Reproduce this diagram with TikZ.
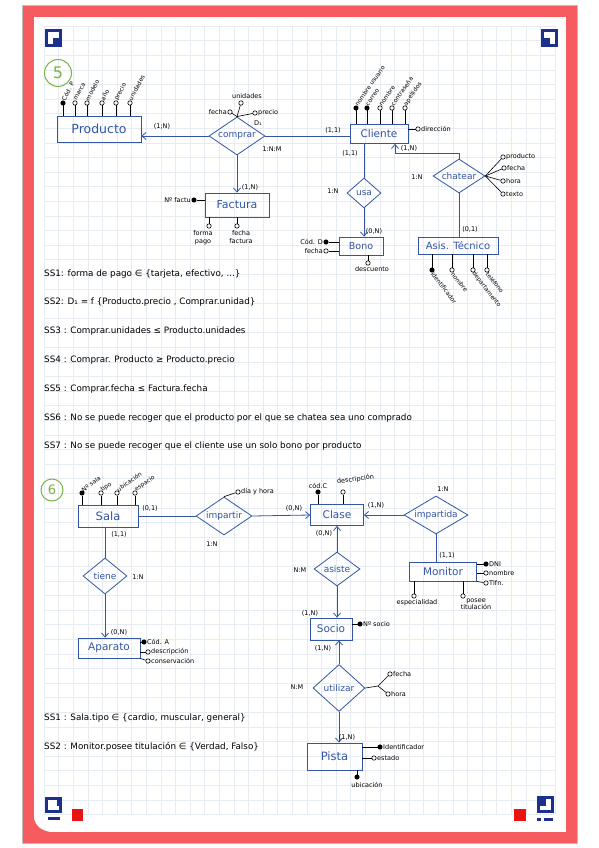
\documentclass[tikz,border=0pt]{standalone}
\usepackage{fontspec}
\setmainfont{DejaVu Sans}
\usetikzlibrary{shapes.geometric,arrows.meta}
\definecolor{ink}{RGB}{50,85,165}
\definecolor{framered}{RGB}{246,92,95}
\definecolor{grn}{RGB}{120,180,70}
\definecolor{gridc}{RGB}{231,235,242}
\definecolor{iconblue}{RGB}{28,48,140}
\definecolor{sqred}{RGB}{232,20,20}
\begin{document}
\begin{tikzpicture}[x=1pt,y=-1pt,
  ent/.style={draw=ink, line width=0.8pt, text=ink, inner sep=0pt, font=\fontsize{10.5}{10}\selectfont},
  rel/.style={diamond, draw=ink, line width=0.8pt, inner sep=0pt},
  relt/.style={text=ink, inner sep=0pt, font=\fontsize{9}{9}\selectfont},
  lk/.style={draw=ink, line width=0.8pt},
  arr/.style={lk, -{Straight Barb[length=4pt,width=7pt]}},
  att/.style={circle, draw=black, fill=white, inner sep=0pt, minimum size=4.4pt, line width=0.6pt},
  katt/.style={att, fill=black},
  stick/.style={draw=black, line width=0.6pt},
  al/.style={font=\fontsize{6.5}{7.5}\selectfont, inner sep=0.5pt},
  ral/.style={font=\fontsize{6}{6}\selectfont, inner sep=0.3pt},
  card/.style={font=\fontsize{6.5}{7}\selectfont, inner sep=0pt},
  ss/.style={anchor=west, font=\fontsize{8.8}{9}\selectfont, inner sep=0pt}]
\fill[white] (0,0) rectangle (599,848);
\useasboundingbox (0,0) rectangle (599,848);
% grid
\foreach \i in {0,...,35} {\draw[gridc, line width=0.4pt] ({44+\i*14.6},26) -- ({44+\i*14.6},814.4);}
\foreach \j in {0,...,54} {\draw[gridc, line width=0.4pt] (44,{26+\j*14.6}) -- (555,{26+\j*14.6});}
% frame
\draw[black!25, line width=0.8pt] (22.5,5.5) rectangle (577.5,843.5);
\draw[framered, line width=11pt] (28.5,11.5) rectangle (571.5,837.5);
\fill[framered] (34,819) -- (34,832) -- (50,832) .. controls (40,830) and (36,826) .. cycle;
% icons
\fill[iconblue] (45,29) rectangle (62,47);
\fill[white] (48,32) rectangle (59,44);
\fill[iconblue] (53,38) rectangle (59,44);
\fill[iconblue] (541,29) rectangle (558,47);
\fill[white] (544,32) rectangle (555,44);
\fill[iconblue] (544,38) rectangle (550,44);
\fill[iconblue] (45,797) rectangle (62,813);
\fill[white] (48,800) rectangle (57,806);
\fill[white] (48,806) rectangle (59,810);
\fill[iconblue] (48,817) rectangle (60,820);
\fill[sqred] (72,809) rectangle (83,821);
\fill[iconblue] (537,796) rectangle (554,813);
\fill[white] (546,799) rectangle (551,806);
\fill[white] (540,806) rectangle (551,810);
\fill[iconblue] (537,818) rectangle (541,821);
\fill[iconblue] (544,818) rectangle (553,821);
\fill[sqred] (514,809) rectangle (526,821);

% ================= Section 5 =================
\node[circle, draw=grn, line width=1pt, minimum size=27pt, inner sep=0pt, text=grn, font=\fontsize{16}{16}\selectfont] (s5) at (58,73) {5};

\node[ent, minimum width=84pt, minimum height=26pt, font=\fontsize{12.5}{12}\selectfont] (producto) at (99,129) {Producto};
\node[katt] (p1) at (63,103) {};
\node[att] (p2) at (75,103) {};
\node[att] (p3) at (87,103) {};
\node[att] (p4) at (102,103) {};
\node[att] (p5) at (116,103) {};
\node[att] (p6) at (130,103) {};
\foreach \a in {p1,p2,p3,p4,p5,p6} {\draw[stick] (\a) -- (\a |- producto.north);}
\node[ral, rotate=62, anchor=west] (lp1) at (p1.north) {Cód. P};
\node[ral, rotate=62, anchor=west] (lp2) at (p2.north) {marca};
\node[ral, rotate=62, anchor=west] (lp3) at (p3.north) {modelo};
\node[ral, rotate=62, anchor=west] (lp4) at (p4.north) {año};
\node[ral, rotate=62, anchor=west] (lp5) at (p5.north) {precio};
\node[ral, rotate=62, anchor=west] (lp6) at (p6.north) {unidades};

\node[rel, minimum width=56pt, minimum height=38pt] (comprar) at (237,136) {};
\node[relt] (tcomprar) at (comprar) {comprar};
\node[att] (cu) at (241,103) {};
\node[al, anchor=south] (lcu) at (247,99) {unidades};
\node[att] (cf) at (230,112) {};
\node[al, anchor=east] (lcf) at (cf.west) {fecha};
\node[att] (cp) at (255,113) {};
\node[al, anchor=west] (lcp) at (cp.east) {precio};
\node[card] (d1) at (258,123) {D₁};
\draw[stick] (comprar.north) -- (cu);
\draw[stick] (comprar.north) -- (cf);
\draw[stick] (comprar.north) -- (cp);
\draw[arr] (comprar.west) -- (producto.east |- comprar.west);
\node[card] (c1) at (162,126) {(1;N)};
\node[card] (c2) at (272,149) {1:N:M};

\node[ent, minimum width=64pt, minimum height=24pt, font=\fontsize{11}{11}\selectfont] (factura) at (237,205) {Factura};
\draw[arr] (comprar.south) -- (factura.north);
\node[card] (c3) at (250,187) {(1,N)};
\node[katt] (nf) at (194,200) {};
\draw[stick] (nf) -- (nf -| factura.west);
\node[al, anchor=east] (lnf) at (nf.west) {Nº factu};
\node[att] (fp) at (209,226) {};
\draw[stick] (fp) -- (fp |- factura.south);
\node[al, anchor=north, align=center] (lfp) at (203,230) {forma\\pago};
\node[att] (ff) at (237,226) {};
\draw[stick] (ff) -- (ff |- factura.south);
\node[al, anchor=north, align=center] (lff) at (241,230) {fecha\\factura};

\node[ent, minimum width=58pt, minimum height=19pt] (cliente) at (379,134) {Cliente};
\draw[lk] (comprar.east) -- (comprar.east -| cliente.west);
\node[card] (c4) at (333,130) {(1,1)};
\node[katt] (k1) at (356,108) {};
\node[katt] (k2) at (367,108) {};
\node[att] (k3) at (380,108) {};
\node[att] (k4) at (392,108) {};
\node[att] (k5) at (405,108) {};
\foreach \a in {k1,k2,k3,k4,k5} {\draw[stick] (\a) -- (\a |- cliente.north);}
\node[ral, rotate=55, anchor=west] (lk1) at (k1.north) {nombre usuario};
\node[ral, rotate=55, anchor=west] (lk2) at (k2.north) {correo};
\node[ral, rotate=55, anchor=west] (lk3) at (k3.north) {nombre};
\node[ral, rotate=55, anchor=west] (lk4) at (k4.north) {contraseña};
\node[ral, rotate=55, anchor=west] (lk5) at (k5.north) {apellidos};
\node[att] (dir) at (418,129) {};
\draw[stick] (dir) -- (dir -| cliente.east);
\node[al, anchor=west] (ldir) at (dir.east) {dirección};

\node[rel, minimum width=34pt, minimum height=30pt] (usa) at (364,193) {};
\node[relt] (tusa) at (usa) {usa};
\draw[lk] (usa.north) -- (usa.north |- cliente.south);
\node[card] (c5) at (350,153) {(1,1)};
\node[card] (c6) at (333,191) {1:N};
\node[ent, minimum width=44pt, minimum height=18pt, font=\fontsize{9.5}{9}\selectfont] (bono) at (361,246) {Bono};
\draw[arr] (usa.south) -- (usa.south |- bono.north);
\node[card] (c7) at (374,231) {(0,N)};
\node[katt] (cd) at (326,242) {};
\draw[stick] (cd) -- (cd -| bono.west);
\node[al, anchor=east] (lcd) at (cd.west) {Cód. D};
\node[att] (fb) at (326,251) {};
\draw[stick] (fb) -- (fb -| bono.west);
\node[al, anchor=east] (lfb) at (fb.west) {fecha};
\node[att] (dsc) at (368,263) {};
\draw[stick] (dsc) -- (dsc |- bono.south);
\node[al, anchor=north] (ldsc) at (372,266) {descuento};

\node[rel, minimum width=52pt, minimum height=34pt] (chatear) at (459,176) {};
\node[relt] (tchatear) at (chatear) {chatear};
\coordinate (chk) at (395,153);
\draw[arr] (chatear.north) |- (chk) -- (chk |- cliente.south);
\node[card] (c8) at (409,148) {(1,N)};
\node[card] (c9) at (417,177) {1:N};
\node[att] (t1) at (503,157) {};
\node[att] (t2) at (504,168) {};
\node[att] (t3) at (503,181) {};
\node[att] (t4) at (503,194) {};
\foreach \a in {t1,t2,t3,t4} {\draw[stick] (chatear.east) -- (\a);}
\node[al, anchor=west] (lt1) at (t1.east) {producto};
\node[al, anchor=west] (lt2) at (t2.east) {fecha};
\node[al, anchor=west] (lt3) at (t3.east) {hora};
\node[al, anchor=west] (lt4) at (t4.east) {texto};
\node[ent, minimum width=80pt, minimum height=17pt, font=\fontsize{10}{10}\selectfont] (asis) at (458,245.5) {Asis. Técnico};
\draw[lk] (chatear.south) -- (chatear.south |- asis.north);
\node[card] (c10) at (470,229) {(0,1)};
\node[katt] (a1) at (432,270) {};
\node[att] (a2) at (452,270) {};
\node[att] (a3) at (473,270) {};
\node[att] (a4) at (487,270) {};
\foreach \a in {a1,a2,a3,a4} {\draw[stick] (\a) -- (\a |- asis.south);}
\node[ral, rotate=-52, anchor=west] (la1) at (a1.south) {identificador};
\node[ral, rotate=-52, anchor=west] (la2) at (a2.south) {nombre};
\node[ral, rotate=-52, anchor=west] (la3) at (a3.south) {departamento};
\node[ral, rotate=-52, anchor=west] (la4) at (a4.south) {teléfono};

\node[ss] (ss51) at (44,274) {SS1: forma de pago ∈ \{tarjeta, efectivo, ...\}};
\node[ss] (ss52) at (44,302) {SS2: D₁ = f \{Producto.precio , Comprar.unidad\}};
\node[ss] (ss53) at (44,331) {SS3 : Comprar.unidades ≤ Producto.unidades};
\node[ss] (ss54) at (44,360) {SS4 : Comprar. Producto ≥ Producto.precio};
\node[ss] (ss55) at (44,389) {SS5 : Comprar.fecha ≤ Factura.fecha};
\node[ss] (ss56) at (44,418) {SS6 : No se puede recoger que el producto por el que se chatea sea uno comprado};
\node[ss] (ss57) at (44,446) {SS7 : No se puede recoger que el cliente use un solo bono por producto};

% ================= Section 6 =================
\node[circle, draw=grn, line width=1pt, minimum size=22pt, inner sep=0pt, text=grn, font=\fontsize{13}{13}\selectfont] (s6) at (52,490) {6};

\node[ent, minimum width=60pt, minimum height=22pt, font=\fontsize{11.5}{11}\selectfont] (sala) at (108,516) {Sala};
\node[katt] (sa1) at (82,493) {};
\node[att] (sa2) at (101,493) {};
\node[att] (sa3) at (117,493) {};
\node[att] (sa4) at (135,493) {};
\foreach \a in {sa1,sa2,sa3,sa4} {\draw[stick] (\a) -- (\a |- sala.north);}
\node[ral, rotate=35, anchor=west] (lsa1) at (sa1.north) {Nº sala};
\node[ral, rotate=35, anchor=west] (lsa2) at (sa2.north) {tipo};
\node[ral, rotate=35, anchor=west] (lsa3) at (sa3.north) {ubicación};
\node[ral, rotate=35, anchor=west] (lsa4) at (sa4.north) {espacio};
\node[card] (d1c) at (150,508) {(0,1)};

\node[rel, minimum width=56pt, minimum height=38pt] (impartir) at (224,516) {};
\node[relt] (timpartir) at (impartir) {impartir};
\draw[lk] (sala.east) -- (impartir.west);
\node[att] (dh) at (238,492) {};
\draw[stick] (impartir.north) -- (dh);
\node[al, anchor=west] (ldh) at (dh.east) {día y hora};
\node[card] (d2c) at (212,544) {1:N};

\node[ent, minimum width=53pt, minimum height=21pt] (clase) at (337,515) {Clase};
\draw[arr] (impartir.east) -- (clase.west);
\node[card] (d3c) at (294,508) {(0,N)};
\node[katt] (cc) at (318,492) {};
\draw[stick] (cc) -- (cc |- clase.north);
\node[al, anchor=south] (lcc) at (cc.north) {cód.C};
\node[att] (cdsc) at (343,492) {};
\draw[stick] (cdsc) -- (cdsc |- clase.north);
\node[al, anchor=south west, rotate=8] (lcdsc) at (337,486) {descripción};

\node[rel, minimum width=64pt, minimum height=38pt] (impartida) at (436,515) {};
\node[relt] (timpartida) at (impartida) {impartida};
\draw[arr] (impartida.west) -- (clase.east);
\node[card] (d4c) at (376,505) {(1,N)};
\node[card] (d5c) at (443,489) {1:N};

\node[ent, minimum width=67pt, minimum height=19pt] (monitor) at (443,571.5) {Monitor};
\draw[lk] (impartida.south) -- (impartida.south |- monitor.north);
\node[card] (d6c) at (447,555) {(1,1)};
\node[katt] (m1) at (486,564) {};
\node[att] (m2) at (486,573) {};
\node[att] (m3) at (486,583) {};
\draw[stick] (m1) -- (m1 -| monitor.east);
\draw[stick] (m2) -- (m2 -| monitor.east);
\draw[stick] (m3) -- (monitor.south east);
\node[al, anchor=west] (lm1) at (m1.east) {DNI};
\node[al, anchor=west] (lm2) at (m2.east) {nombre};
\node[al, anchor=west] (lm3) at (m3.east) {Tlfn.};
\node[att] (esp) at (414,596) {};
\draw[stick] (esp) -- (esp |- monitor.south);
\node[al, anchor=north] (lesp) at (417,599) {especialidad};
\node[att] (pt) at (463,596) {};
\draw[stick] (pt) -- (pt |- monitor.south);
\node[al, anchor=north, align=center] (lpt) at (476,598) {posee\\titulación};

\node[rel, minimum width=46pt, minimum height=34pt] (asiste) at (337,569) {};
\node[relt] (tasiste) at (asiste) {asiste};
\draw[arr] (asiste.north) -- (asiste.north |- clase.south);
\node[card] (d7c) at (324,533) {(0,N)};
\node[card] (d8c) at (300,570) {N:M};

\node[ent, minimum width=42pt, minimum height=22pt] (socio) at (331,629) {Socio};
\draw[arr] (asiste.south) -- (asiste.south |- socio.north);
\node[card] (d9c) at (310,613) {(1,N)};
\node[katt] (ns) at (360,624) {};
\draw[stick] (ns) -- (ns -| socio.east);
\node[al, anchor=west] (lns) at (ns.east) {Nº socio};

\node[rel, minimum width=52pt, minimum height=47pt] (utilizar) at (339,688) {};
\node[relt] (tutilizar) at (utilizar) {utilizar};
\draw[arr] (utilizar.north) -- (utilizar.north |- socio.south);
\node[card] (d10c) at (323,648) {(1,N)};
\node[card] (d11c) at (297,687) {N:M};
\coordinate (uj) at (378,686);
\node[att] (uf) at (390,674) {};
\node[att] (uh) at (388,694) {};
\draw[stick] (utilizar.east) -- (uj) -- (uf);
\draw[stick] (uj) -- (uh);
\node[al, anchor=west] (luf) at (uf.east) {fecha};
\node[al, anchor=west] (luh) at (uh.east) {hora};

\node[ent, minimum width=55pt, minimum height=27pt, font=\fontsize{11.5}{11}\selectfont] (pista) at (334.5,756.5) {Pista};
\draw[arr] (utilizar.south) -- (utilizar.south |- pista.north);
\node[card] (d12c) at (347,737) {(1,N)};
\node[katt] (pi) at (380,747) {};
\draw[stick] (pi) -- (pi -| pista.east);
\node[al, anchor=west] (lpi) at (pi.east) {Identificador};
\node[att] (pe) at (374,758) {};
\draw[stick] (pe) -- (pe -| pista.east);
\node[al, anchor=west] (lpe) at (pe.east) {estado};
\node[katt] (pu) at (357,777) {};
\draw[stick] (pu) -- (pu |- pista.south);
\node[al, anchor=north] (lpu) at (367,782) {ubicación};

\node[rel, minimum width=44pt, minimum height=36pt] (tiene) at (105,576) {};
\node[relt] (ttiene) at (tiene) {tiene};
\draw[lk] (tiene.north) -- (tiene.north |- sala.south);
\node[card] (d13c) at (119,534) {(1,1)};
\node[card] (d14c) at (138,577) {1:N};
\node[ent, minimum width=62pt, minimum height=20pt] (aparato) at (109,648) {Aparato};
\draw[arr] (tiene.south) -- (tiene.south |- aparato.north);
\node[card] (d15c) at (119,632) {(0,N)};
\node[katt] (ap1) at (144,642) {};
\node[att] (ap2) at (148,652) {};
\node[att] (ap3) at (148,661) {};
\draw[stick] (ap1) -- (ap1 -| aparato.east);
\draw[stick] (ap2) -- (ap2 -| aparato.east);
\draw[stick] (ap3) -- (aparato.south east);
\node[al, anchor=west] (lap1) at (ap1.east) {Cód. A};
\node[al, anchor=west] (lap2) at (ap2.east) {descripción};
\node[al, anchor=west] (lap3) at (ap3.east) {conservación};

\node[ss] (ss61) at (44,718) {SS1 : Sala.tipo ∈ \{cardio, muscular, general\}};
\node[ss] (ss62) at (44,747) {SS2 : Monitor.posee titulación ∈ \{Verdad, Falso\}};
\end{tikzpicture}
\end{document}
